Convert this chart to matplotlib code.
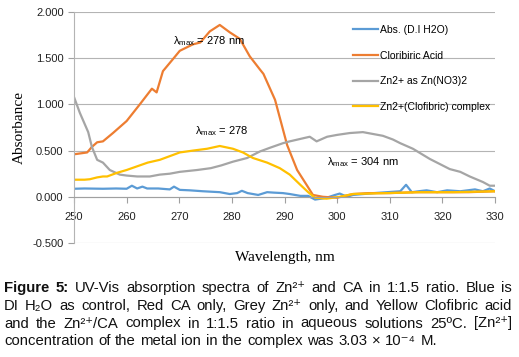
import matplotlib.pyplot as plt

plt.rcParams['font.family'] = ['Liberation Sans', 'DejaVu Sans']
plt.rcParams['mathtext.fontset'] = 'custom'
plt.rcParams['mathtext.rm'] = 'Liberation Sans'
plt.rcParams['mathtext.it'] = 'Liberation Sans:italic'
plt.rcParams['mathtext.bf'] = 'Liberation Sans:bold'

# --- data ---
wl_blue = [250, 252, 255.5, 258, 260, 261, 262, 263, 263.9, 266, 268.2, 269, 270.1, 272,
           274.5, 277.7, 279.6, 281, 281.9, 283, 284, 285, 286.7, 288, 289.7, 291, 293,
           294.5, 295.8, 297, 298, 299.6, 300.5, 301.9, 303, 305, 307, 309.5, 312, 313.1,
           314.2, 315.5, 317, 319, 320.9, 323.4, 326.2, 327.7, 329, 330]
abs_blue = [0.087, 0.09, 0.087, 0.09, 0.087, 0.12, 0.09, 0.11, 0.09, 0.09, 0.08, 0.11, 0.075, 0.07,
            0.06, 0.05, 0.03, 0.04, 0.065, 0.04, 0.03, 0.02, 0.05, 0.045, 0.04, 0.03, 0.01,
            0.01, -0.03, -0.02, -0.01, 0.02, 0.035, 0.0, 0.02, 0.03, 0.04, 0.05, 0.06, 0.13,
            0.05, 0.06, 0.07, 0.05, 0.07, 0.06, 0.08, 0.06, 0.09, 0.06]

wl_orange = [250, 252.5, 253.4, 254.4, 255.5, 257.4, 260, 262.5, 264.8, 265.7, 266.9, 268.8,
             270.1, 272.6, 274, 275.8, 277.7, 279.6, 281.5, 283.4, 285.3, 286, 288.2, 290.5,
             292.4, 294.3, 295.4, 297.3, 300, 303, 306, 310, 315, 320, 325, 330]
abs_orange = [0.46, 0.48, 0.54, 0.59, 0.60, 0.69, 0.82, 1.00, 1.17, 1.13, 1.36, 1.49,
              1.58, 1.65, 1.67, 1.79, 1.86, 1.78, 1.71, 1.52, 1.38, 1.33, 1.05, 0.56,
              0.29, 0.12, 0.02, 0.0, -0.01, 0.03, 0.04, 0.04, 0.05, 0.05, 0.05, 0.06]

wl_grey = [250, 251.1, 252.7, 253.4, 254.4, 255.5, 256.8, 258.7, 260, 262, 264.4, 266.3,
           268.2, 270.1, 273.4, 276, 278, 280.2, 282.9, 285.3, 287.2, 289.7, 291, 294.8,
           296.1, 298.1, 300, 302.4, 304.9, 308.7, 310.6, 312, 314.4, 317.6, 321.4, 323.4,
           325.2, 327.7, 329, 330]
abs_grey = [1.08, 0.91, 0.70, 0.54, 0.40, 0.37, 0.29, 0.24, 0.23, 0.22, 0.22, 0.24,
            0.25, 0.27, 0.29, 0.31, 0.34, 0.38, 0.42, 0.49, 0.53, 0.58, 0.60, 0.65,
            0.60, 0.65, 0.67, 0.69, 0.70, 0.66, 0.62, 0.58, 0.52, 0.41, 0.30, 0.27,
            0.22, 0.16, 0.12, 0.12]

wl_yellow = [250, 252, 253, 254.4, 255.5, 256.3, 258.2, 260, 262, 264, 266.3, 268.2, 270.1,
             272.6, 275.3, 277.7, 280.2, 282.1, 284, 286.7, 289.1, 291, 293, 294.5, 295.8,
             298, 300.5, 303, 306, 309.5, 315.7, 322, 330]
abs_yellow = [0.185, 0.185, 0.19, 0.21, 0.22, 0.22, 0.26, 0.29, 0.33, 0.37, 0.40, 0.44, 0.48,
              0.50, 0.52, 0.55, 0.52, 0.48, 0.42, 0.37, 0.31, 0.24, 0.13, 0.05, -0.01,
              -0.02, 0.0, 0.03, 0.035, 0.04, 0.05, 0.05, 0.06]

labels = ['Abs. (D.I H2O)', 'Cloribiric Acid', 'Zn2+ as Zn(NO3)2', 'Zn2+(Clofibric) complex']
colors = ['#5B9BD5', '#ED7D31', '#A5A5A5', '#FFC000']

caption_lines = [
    'Figure 5: UV-Vis absorption spectra of Zn²⁺ and CA in 1:1.5 ratio. Blue is',
    'DI H₂O as control, Red CA only, Grey Zn²⁺ only, and Yellow Clofibric acid',
    'and the Zn²⁺/CA complex in 1:1.5 ratio in aqueous solutions 25ºC. [Zn²⁺]',
    'concentration of the metal ion in the complex was 3.03 × 10⁻⁴ M.',
]
caption_base = [292, 310, 327.5, 345]  # baseline, px from top

W, H = 519, 357
fig = plt.figure(figsize=(W / 100, H / 100), dpi=100)
ax = fig.add_axes([74 / W, 1 - 243 / H, (495 - 74) / W, (243 - 12) / H])

series = [(wl_blue, abs_blue), (wl_orange, abs_orange), (wl_grey, abs_grey), (wl_yellow, abs_yellow)]
for (x, y), lab, c in zip(series, labels, colors):
    ax.plot(x, y, color=c, lw=1.6, label=lab, solid_joinstyle='round')

ax.set_xlim(250, 330)
ax.set_ylim(-0.5, 2.0)
ax.set_xticks(range(250, 331, 10))
ax.set_yticks([-0.5, 0, 0.5, 1.0, 1.5, 2.0])
ax.set_yticklabels(['-0.500', '0.000', '0.500', '1.000', '1.500', '2.000'])
ax.grid(axis='y', color='#b4b4b4', lw=0.8)
ax.set_axisbelow(True)
for s in ['top', 'right']:
    ax.spines[s].set_visible(False)
ax.spines['bottom'].set_position(('data', 0))
ax.spines['bottom'].set_color('#a0a0a0')
ax.spines['left'].set_color('#b4b4b4')
ax.tick_params(axis='both', colors='#a0a0a0', labelcolor='#222222', labelsize=8, length=4)
ax.tick_params(axis='x', pad=7)

fig.text(285 / W, 1 - 257 / H, 'Wavelength, nm', family='Liberation Serif', fontsize=11,
         ha='center', va='center')
ax.set_ylabel('Absorbance', family='Liberation Serif', fontsize=11, labelpad=5)

ann_kw = dict(fontsize=8, va='center', ha='left')
ax.text(268.8, 1.685, r'λ$_{\mathrm{max}}$ = 278 nm', **ann_kw)
ax.text(273.0, 0.71, r'λ$_{\mathrm{max}}$ = 278', **ann_kw)
ax.text(298.1, 0.38, r'λ$_{\mathrm{max}}$ = 304 nm', **ann_kw)

ax.legend(loc='upper left', bbox_to_anchor=(353 / W, 1 - 25 / H), bbox_transform=fig.transFigure,
          frameon=False, fontsize=7.5, handlelength=2.4, handletextpad=0.2,
          labelspacing=1.5, borderpad=0, borderaxespad=0)

# caption, justified like the journal text
r = fig.canvas.get_renderer()
for i, line in enumerate(caption_lines):
    words = line.split(' ')
    y = 1 - caption_base[i] / H
    texts = []
    for j, w in enumerate(words):
        bold = (i == 0 and j < 2)
        texts.append(fig.text(0, y, w, fontsize=10.7, va='baseline', color='#111111',
                              fontweight='bold' if bold else 'normal'))
    widths = [t.get_window_extent(r).width for t in texts]
    if i < len(caption_lines) - 1:
        gap = (512 - 4 - sum(widths)) / (len(words) - 1)
    else:
        gap = 4.5
    x = 4
    for t, w in zip(texts, widths):
        t.set_x(x / W)
        x += w + gap

fig.savefig('out.png', dpi=100)
